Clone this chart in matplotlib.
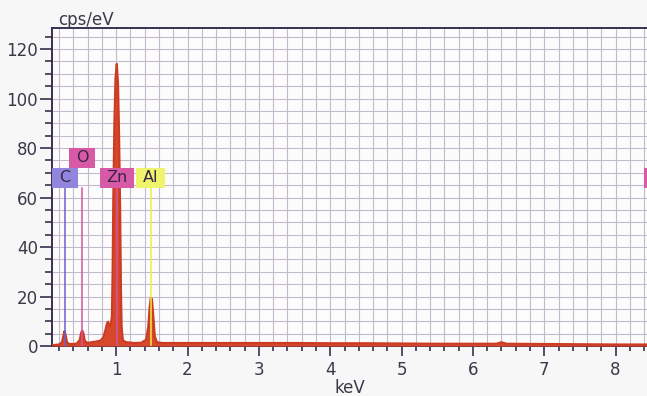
import numpy as np
import matplotlib.pyplot as plt
from matplotlib.patches import Rectangle
from matplotlib.ticker import MultipleLocator

# spectrum (keV, cps/eV)
energy_kev = [0.10, 0.20, 0.24, 0.26, 0.275, 0.29, 0.31, 0.34, 0.40, 0.45,
              0.49, 0.51, 0.525, 0.54, 0.56, 0.60, 0.65, 0.72, 0.78, 0.82,
              0.85, 0.87, 0.885, 0.90, 0.92, 0.94, 0.95, 0.96, 0.975, 0.99,
              1.008, 1.025, 1.04, 1.055, 1.065, 1.075, 1.09, 1.10, 1.15, 1.25,
              1.35, 1.42, 1.45, 1.47, 1.485, 1.50, 1.52, 1.54, 1.57, 1.65,
              2.0, 2.5, 3.0, 3.5, 4.0, 4.5, 5.0, 5.5, 6.0, 6.33,
              6.40, 6.47, 7.0, 7.5, 8.0, 8.45]
counts = [0.3, 0.6, 1.5, 4.0, 6.0, 4.5, 1.5, 0.8, 0.8, 1.0,
          2.5, 5.5, 6.2, 5.0, 2.0, 1.2, 1.5, 1.8, 2.2, 3.5,
          6.5, 9.0, 9.8, 8.5, 8.0, 12.0, 30.0, 60.0, 90.0, 108.0,
          114.0, 106.0, 85.0, 55.0, 25.0, 8.0, 3.0, 2.0, 1.5, 1.2,
          1.3, 2.5, 8.0, 16.0, 19.5, 19.0, 12.0, 4.0, 1.5, 1.2,
          1.2, 1.2, 1.2, 1.2, 1.1, 1.1, 1.0, 0.9, 0.9, 0.9,
          1.5, 0.9, 0.8, 0.7, 0.6, 0.6]

# element markers
element_names = ['C', 'O', 'Zn', 'Al', 'Zn']
element_kev = [0.277, 0.525, 1.012, 1.486, 8.63]
element_row = [0, 1, 0, 0, 0]

box_colors = {'C': '#9186de', 'O': '#d85aa6', 'Zn': '#d85aa6', 'Al': '#eef46c'}
line_colors = {'C': '#6a62d2', 'O': '#d2569e', 'Zn': '#d2569e', 'Al': '#eef040'}
box_widths = {'C': 0.364, 'O': 0.364, 'Zn': 0.476, 'Al': 0.406}

axis_color = '#3a3050'
text_color = '#3d3848'
grid_color = '#c3bbca'

figure = plt.figure(figsize=(6.47, 3.96), dpi=100, facecolor='#f8f7f8')
axes = figure.add_axes([52 / 647, 50 / 396, 595 / 647, 318 / 396])
axes.set_facecolor('#fdfcfd')

axes.fill_between(energy_kev, counts, 0, color='#d6472b', lw=0, zorder=3)
axes.plot(energy_kev, counts, color='#cc3b22', lw=1.6, zorder=3)

line_top = 64.0
box_h = 8.1
for name, kev, row in zip(element_names, element_kev, element_row):
    axes.plot([kev, kev], [0, line_top], color=line_colors[name], lw=1.1, zorder=4)
    bottom = line_top + row * box_h
    w = box_widths[name]
    axes.add_patch(Rectangle((kev - w / 2, bottom), w, box_h, facecolor=box_colors[name],
                             edgecolor='none', zorder=5, clip_on=False))
    if kev < 8.44:
        axes.text(kev, bottom + box_h / 2, name, ha='center', va='center', fontsize=11.5,
                  color='#3a2545', zorder=6)

axes.set_xlim(0.1, 8.44)
axes.set_ylim(0, 128.5)
axes.xaxis.set_major_locator(MultipleLocator(1))
axes.xaxis.set_minor_locator(MultipleLocator(0.2))
axes.yaxis.set_major_locator(MultipleLocator(20))
axes.yaxis.set_minor_locator(MultipleLocator(5))
axes.grid(which='both', color=grid_color, lw=0.8, zorder=0)
axes.set_axisbelow(True)

for side in ['left', 'bottom', 'top']:
    axes.spines[side].set_color(axis_color)
    axes.spines[side].set_linewidth(1.4)
axes.spines['right'].set_visible(False)

axes.tick_params(axis='x', which='major', length=7.5, width=1.2, color=axis_color,
                 labelsize=12, labelcolor=text_color, pad=3)
axes.tick_params(axis='x', which='minor', length=3.5, width=1.2, color=axis_color)
axes.tick_params(axis='y', which='major', length=9, width=1.2, color=axis_color,
                 labelsize=12, labelcolor=text_color, pad=1)
axes.tick_params(axis='y', which='minor', length=5, width=1.2, color=axis_color)

axes.set_xlabel('keV', fontsize=12, color=text_color, labelpad=0)
axes.text(58 / 647, 1 - 25 / 396, 'cps/eV', transform=figure.transFigure,
          fontsize=12, color=text_color, ha='left', va='baseline')

figure.savefig('out.png', dpi=100, facecolor=figure.get_facecolor())
